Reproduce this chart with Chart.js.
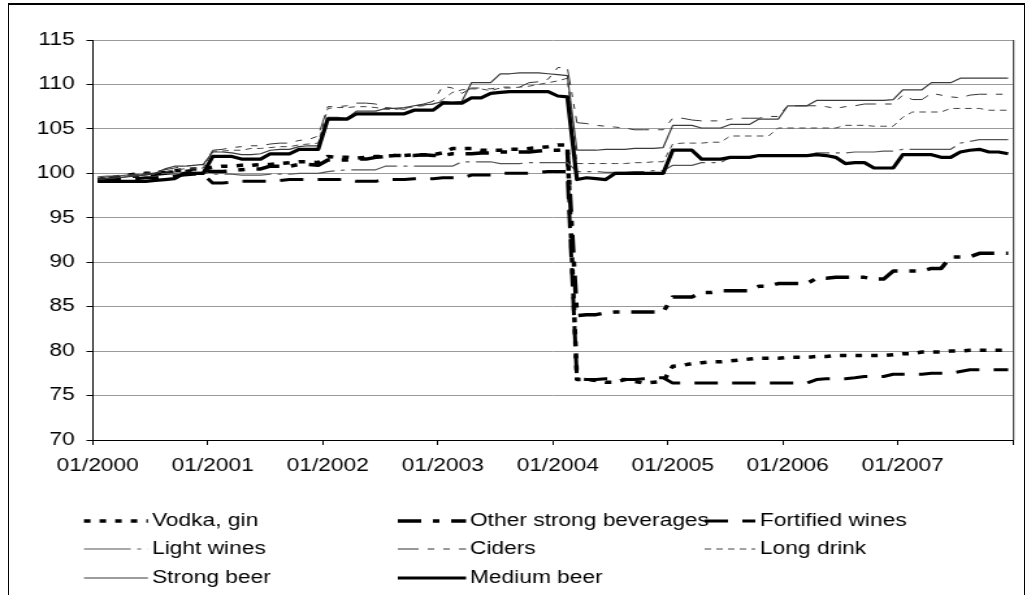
<!DOCTYPE html>
<html>
<head>
<meta charset="utf-8">
<script src="https://cdn.jsdelivr.net/npm/chart.js"></script>
<style>
  html, body { margin: 0; padding: 0; background: #fff; overflow: hidden; }
  #wrap { position: absolute; left: 0; top: 0; width: 790px; height: 595px; transform: scaleX(1.3); transform-origin: 0 0; }
  #frame { position: absolute; left: 8px; top: 3px; width: 1017px; height: 600px; box-sizing: border-box;
           border-top: 2px solid #000; border-left: 1px solid #000; border-right: 1px solid #000; pointer-events: none; }
</style>
</head>
<body>
<div id="wrap"><canvas id="chart" width="790" height="595"></canvas></div>
<div id="frame"></div>
<script>
// monthly price index, 2000 = 100 (one row per year)
const vodka = [
  99.3, 99.5, 99.6, 99.8, 99.9, 100.0, 100.0, 100.1, 100.3, 100.4, 100.5, 100.5,
  100.7, 100.8, 100.8, 100.9, 100.9, 101.0, 101.0, 101.1, 101.2, 101.3, 101.3, 101.2,
  101.9, 101.8, 101.8, 101.7, 101.8, 101.9, 101.9, 102.0, 102.0, 102.1, 102.1, 102.1,
  102.3, 102.8, 102.8, 102.8, 102.6, 102.6, 102.6, 102.7, 102.7, 102.8, 102.9, 103.0,
  103.2, 103.2, 76.8, 76.8, 76.7, 76.5, 76.5, 76.8, 76.6, 76.4, 76.5, 76.6,
  78.3, 78.4, 78.6, 78.7, 78.8, 78.8, 78.9, 79.0, 79.1, 79.2, 79.2, 79.2,
  79.3, 79.3, 79.3, 79.4, 79.4, 79.5, 79.5, 79.5, 79.5, 79.5, 79.5, 79.6,
  79.7, 79.7, 79.9, 79.9, 79.9, 80.0, 80.0, 80.1, 80.1, 80.1, 80.1, 80.1
];
const otherStrong = [
  99.2, 99.3, 99.5, 99.6, 99.7, 99.8, 99.9, 100.0, 100.1, 100.2, 100.3, 100.3,
  100.2, 100.2, 100.3, 100.4, 100.5, 100.5, 100.8, 100.8, 100.8, 101.0, 101.0, 100.9,
  101.5, 101.5, 101.5, 101.6, 101.6, 101.8, 101.9, 102.0, 102.0, 102.0, 102.1, 102.0,
  102.0, 102.2, 102.2, 102.2, 102.3, 102.3, 102.4, 102.4, 102.4, 102.4, 102.5, 102.6,
  102.6, 102.7, 84.0, 84.1, 84.1, 84.3, 84.4, 84.4, 84.4, 84.4, 84.4, 84.4,
  86.1, 86.1, 86.1, 86.6, 86.6, 86.8, 86.8, 86.8, 86.8, 87.3, 87.3, 87.6,
  87.6, 87.6, 87.6, 88.2, 88.2, 88.3, 88.3, 88.3, 88.3, 88.1, 88.1, 89.0,
  89.0, 89.0, 89.0, 89.3, 89.3, 90.6, 90.6, 90.6, 91.0, 91.0, 91.0, 91.0
];
const fortified = [
  99.1, 99.2, 99.3, 99.3, 99.4, 99.5, 99.5, 99.6, 99.7, 99.8, 99.9, 99.9,
  98.9, 98.9, 99.0, 99.1, 99.1, 99.1, 99.1, 99.2, 99.3, 99.3, 99.3, 99.3,
  99.3, 99.3, 99.3, 99.1, 99.1, 99.1, 99.3, 99.3, 99.3, 99.4, 99.4, 99.4,
  99.5, 99.5, 99.5, 99.8, 99.8, 99.8, 100.0, 100.0, 100.0, 100.0, 100.1, 100.2,
  100.2, 100.2, 76.9, 76.8, 76.8, 76.9, 76.9, 76.8, 76.8, 76.9, 77.0, 77.0,
  76.4, 76.4, 76.4, 76.4, 76.4, 76.4, 76.4, 76.4, 76.4, 76.4, 76.4, 76.4,
  76.4, 76.4, 76.4, 76.8, 76.9, 76.9, 76.9, 77.0, 77.15, 77.15, 77.15, 77.4,
  77.4, 77.4, 77.4, 77.5, 77.5, 77.5, 77.7, 77.9, 77.9, 77.9, 77.9, 77.9
];
const lightWines = [
  99.6, 99.7, 99.7, 99.8, 99.8, 99.9, 99.9, 100.0, 100.0, 100.1, 100.1, 100.1,
  99.9, 99.9, 99.9, 99.8, 99.8, 99.8, 99.9, 99.9, 99.9, 100.0, 100.0, 100.0,
  100.2, 100.3, 100.4, 100.4, 100.4, 100.4, 100.8, 100.8, 100.8, 100.8, 100.8, 100.8,
  100.8, 100.8, 101.3, 101.3, 101.3, 101.3, 101.1, 101.1, 101.1, 101.2, 101.2, 101.2,
  101.2, 101.2, 100.2, 100.2, 100.2, 100.1, 100.1, 100.1, 100.2, 100.2, 100.3, 100.3,
  100.9, 100.9, 100.9, 101.2, 101.2, 101.2, 101.8, 101.8, 101.8, 102.0, 102.0, 102.0,
  102.0, 102.0, 102.0, 102.3, 102.3, 102.3, 102.3, 102.4, 102.4, 102.4, 102.5, 102.5,
  102.7, 102.7, 102.7, 102.7, 102.7, 102.7, 103.4, 103.6, 103.8, 103.8, 103.8, 103.8
];
const ciders = [
  99.4, 99.6, 99.7, 99.8, 99.9, 100.0, 100.2, 100.4, 100.6, 100.8, 100.9, 100.9,
  102.6, 102.7, 102.9, 103.0, 103.1, 103.1, 103.3, 103.4, 103.4, 103.7, 103.8, 104.2,
  107.5, 107.5, 107.6, 107.9, 107.9, 107.8, 107.4, 107.3, 107.2, 107.6, 107.8, 108.1,
  109.8, 109.6, 109.0, 109.6, 109.6, 109.5, 109.7, 109.7, 109.7, 110.2, 110.3, 110.6,
  111.9, 111.9, 105.7, 105.6, 105.4, 105.3, 105.2, 105.1, 104.9, 104.9, 104.9, 104.9,
  106.2, 106.2, 106.0, 105.9, 105.9, 105.9, 106.1, 106.2, 106.2, 106.2, 106.4, 106.4,
  107.6, 107.6, 107.6, 107.6, 107.5, 107.3, 107.5, 107.6, 107.8, 107.8, 107.8, 107.8,
  108.8, 108.3, 108.3, 109.0, 108.8, 108.6, 108.5, 108.8, 108.9, 108.9, 108.9, 108.9
];
const longDrink = [
  99.2, 99.4, 99.5, 99.6, 99.8, 99.9, 100.0, 100.2, 100.4, 100.5, 100.5, 100.6,
  102.5, 102.5, 102.6, 102.6, 102.8, 102.8, 102.9, 103.0, 103.0, 103.2, 103.3, 103.4,
  107.3, 107.4, 107.4, 107.5, 107.5, 107.4, 107.2, 107.2, 107.3, 107.5, 107.6, 107.8,
  108.3, 109.1, 109.4, 109.5, 109.5, 109.3, 109.6, 109.6, 109.7, 109.8, 110.0, 110.2,
  110.4, 110.7, 101.1, 101.1, 101.1, 101.1, 101.1, 101.1, 101.2, 101.2, 101.3, 101.3,
  103.3, 103.4, 103.4, 103.4, 103.5, 103.5, 104.2, 104.2, 104.2, 104.2, 104.2, 105.1,
  105.1, 105.1, 105.1, 105.1, 105.1, 105.1, 105.4, 105.4, 105.4, 105.3, 105.3, 105.3,
  106.3, 106.9, 106.9, 106.9, 106.9, 107.3, 107.3, 107.3, 107.3, 107.1, 107.1, 107.1
];
const strongBeer = [
  99.3, 99.4, 99.5, 99.6, 99.7, 99.8, 100.0, 100.5, 100.8, 100.8, 100.9, 101.0,
  102.4, 102.4, 102.3, 102.1, 102.1, 102.2, 102.6, 102.7, 102.7, 103.0, 103.1, 103.1,
  106.3, 106.3, 106.2, 107.0, 107.0, 107.0, 107.3, 107.3, 107.4, 107.6, 107.7, 107.8,
  108.1, 108.0, 108.1, 110.2, 110.2, 110.2, 111.2, 111.2, 111.3, 111.3, 111.3, 111.2,
  111.1, 111.0, 102.6, 102.6, 102.6, 102.7, 102.7, 102.7, 102.8, 102.8, 102.8, 102.9,
  105.4, 105.4, 105.4, 105.1, 105.1, 105.1, 105.5, 105.5, 105.5, 106.1, 106.1, 106.1,
  107.6, 107.6, 107.6, 108.2, 108.2, 108.2, 108.2, 108.2, 108.2, 108.2, 108.2, 108.3,
  109.4, 109.4, 109.4, 110.2, 110.2, 110.2, 110.7, 110.7, 110.7, 110.7, 110.7, 110.7
];
const mediumBeer = [
  99.1, 99.1, 99.1, 99.1, 99.1, 99.1, 99.2, 99.3, 99.4, 100.0, 100.0, 100.0,
  101.9, 101.9, 101.9, 101.6, 101.6, 101.6, 102.2, 102.2, 102.2, 102.7, 102.7, 102.7,
  106.1, 106.1, 106.1, 106.7, 106.7, 106.7, 106.7, 106.7, 106.7, 107.1, 107.1, 107.1,
  107.9, 107.9, 107.9, 108.5, 108.5, 109.0, 109.1, 109.2, 109.2, 109.2, 109.2, 109.2,
  108.7, 108.6, 99.3, 99.5, 99.4, 99.3, 100.0, 100.0, 100.0, 100.0, 100.0, 100.0,
  102.6, 102.6, 102.6, 101.6, 101.6, 101.6, 101.8, 101.8, 101.8, 102.0, 102.0, 102.0,
  102.0, 102.0, 102.0, 102.1, 102.0, 101.8, 101.1, 101.2, 101.2, 100.6, 100.6, 100.6,
  102.1, 102.1, 102.1, 102.1, 101.8, 101.8, 102.4, 102.6, 102.7, 102.4, 102.4, 102.2
];

// categories: 01/2000 .. 12/2007
const months = [];
for (let y = 2000; y <= 2007; y++) {
  for (let m = 1; m <= 12; m++) months.push((m < 10 ? '0' + m : m) + '/' + y);
}

const FONT = '"Liberation Sans", Arial, sans-serif';
const FONT_SIZE = 17.5;

const series = [
  { label: 'Vodka, gin', data: vodka, color: '#000', width: 3.5, dash: [5, 7] },
  { label: 'Other strong beverages', data: otherStrong, color: '#000', width: 3.5, dash: [18, 9, 5, 9] },
  { label: 'Fortified wines', data: fortified, color: '#000', width: 3, dash: [18, 11] },
  { label: 'Light wines', data: lightWines, color: '#555', width: 1.2, dash: [36, 5, 3, 5] },
  { label: 'Ciders', data: ciders, color: '#333', width: 1, dash: [16, 7, 5, 7, 5, 7] },
  { label: 'Long drink', data: longDrink, color: '#444', width: 1, dash: [5, 4] },
  { label: 'Strong beer', data: strongBeer, color: '#3a3a3a', width: 1.2, dash: [] },
  { label: 'Medium beer', data: mediumBeer, color: '#000', width: 3.2, dash: [] }
];

// right edge of the plot area
const plotEdge = {
  id: 'plotEdge',
  afterDraw(chart) {
    const { ctx, chartArea } = chart;
    ctx.save();
    ctx.strokeStyle = '#222';
    ctx.lineWidth = 1;
    ctx.beginPath();
    ctx.moveTo(chartArea.right + 0.5, chartArea.top);
    ctx.lineTo(chartArea.right + 0.5, chartArea.bottom);
    ctx.stroke();
    ctx.restore();
  }
};

// three-column legend under the axis, like the original
const legendCols = [
  { x0: 64.6, x1: 113.8, tx: 116.9 },
  { x0: 306, x1: 358.5, tx: 361.5 },
  { x0: 542, x1: 581, tx: 584.6 }
];
const legendRows = [521, 549, 578];

const gridLegend = {
  id: 'gridLegend',
  afterDraw(chart) {
    const ctx = chart.ctx;
    chart.data.datasets.forEach((ds, i) => {
      const col = legendCols[i % 3];
      const y = legendRows[Math.floor(i / 3)];
      ctx.save();
      ctx.strokeStyle = ds.borderColor;
      ctx.lineWidth = ds.borderWidth;
      ctx.setLineDash(ds.borderDash || []);
      ctx.beginPath();
      ctx.moveTo(col.x0, y);
      ctx.lineTo(col.x1, y);
      ctx.stroke();
      ctx.restore();
      ctx.save();
      ctx.fillStyle = '#000';
      ctx.font = FONT_SIZE + 'px ' + FONT;
      ctx.textAlign = 'left';
      ctx.textBaseline = 'middle';
      ctx.fillText(ds.label, col.tx, y);
      ctx.restore();
    });
  }
};

Chart.defaults.font.family = FONT;
Chart.defaults.font.size = FONT_SIZE;
Chart.defaults.color = '#000';

const ctx = document.getElementById('chart').getContext('2d');
new Chart(ctx, {
  type: 'line',
  data: {
    labels: months,
    datasets: series.map((s, i) => ({
      label: s.label,
      data: s.data,
      borderColor: s.color,
      backgroundColor: s.color,
      borderWidth: s.width,
      borderDash: s.dash,
      borderJoinStyle: 'round',
      pointRadius: 0,
      tension: 0,
      fill: false,
      order: series.length - i
    }))
  },
  options: {
    responsive: false,
    animation: false,
    devicePixelRatio: 1,
    layout: { padding: { left: 0, right: 10.8, top: 40, bottom: 115 } },
    plugins: { legend: { display: false }, tooltip: { enabled: false } },
    scales: {
      x: {
        type: 'category',
        offset: true,
        grid: {
          offset: true,
          drawOnChartArea: false,
          tickLength: 5,
          color: (c) => (c.index === undefined || c.index % 12 === 0) ? '#000' : 'rgba(0,0,0,0)'
        },
        border: { color: '#000', width: 1 },
        ticks: {
          autoSkip: false,
          maxRotation: 0,
          minRotation: 0,
          padding: 11,
          callback: (v, i) => (i % 12 === 0 ? months[i] : '')
        },
        afterFit: (s) => { s.height = 40; }
      },
      y: {
        min: 70,
        max: 115,
        ticks: { stepSize: 5, padding: 9 },
        grid: { color: '#9a9a9a', tickColor: '#000', tickLength: 5 },
        border: { color: '#000', width: 1 },
        afterFit: (s) => { s.width = 71.5; }
      }
    }
  },
  plugins: [plotEdge, gridLegend]
});
</script>
</body>
</html>
